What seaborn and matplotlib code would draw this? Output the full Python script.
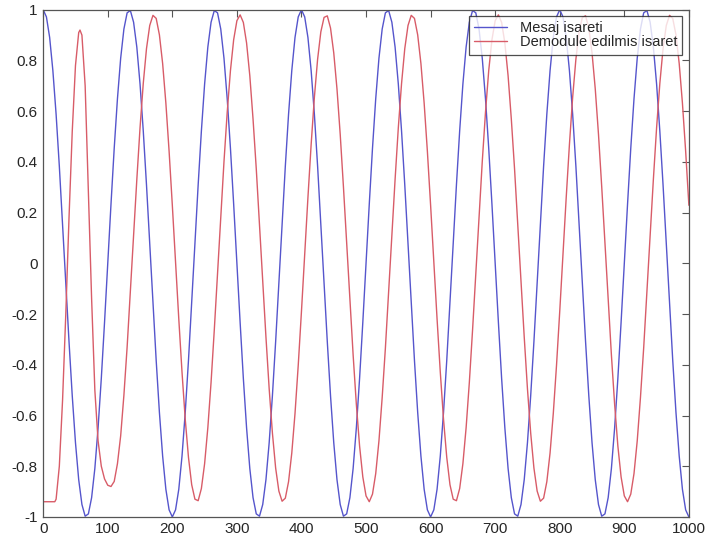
# Message signal vs demodulated signal (MATLAB style figure)
import numpy as np
import matplotlib
matplotlib.use('Agg')
import matplotlib.pyplot as plt
import seaborn as sns

# Message signal, read every 5 units (3 periods = 80 samples, then repeats)
msg_x = list(range(0, 1001, 5))
msg_cycle = [1.0, 0.972, 0.891, 0.76, 0.588, 0.383, 0.156, -0.078, -0.309, -0.522,
             -0.707, -0.853, -0.951, -0.997, -0.988, -0.924, -0.809, -0.649, -0.454, -0.233,
             0.0, 0.233, 0.454, 0.649, 0.809, 0.924, 0.988, 0.997, 0.951, 0.853,
             0.707, 0.522, 0.309, 0.078, -0.156, -0.383, -0.588, -0.76, -0.891, -0.972,
             -1.0, -0.972, -0.891, -0.76, -0.588, -0.383, -0.156, 0.078, 0.309, 0.522,
             0.707, 0.853, 0.951, 0.997, 0.988, 0.924, 0.809, 0.649, 0.454, 0.233,
             0.0, -0.233, -0.454, -0.649, -0.809, -0.924, -0.988, -0.997, -0.951, -0.853,
             -0.707, -0.522, -0.309, -0.078, 0.156, 0.383, 0.588, 0.76, 0.891, 0.972]
msg_y = msg_cycle + msg_cycle + msg_cycle[:41]

# Demodulated signal: start-up part read point by point
dem_start_x = [0, 5, 10, 15, 18, 20, 25, 30, 35, 40, 45, 50, 55, 57, 60, 65, 70, 75,
               80, 85, 90, 95, 100, 105, 110, 115, 120, 125, 130, 135, 140, 145, 150,
               155, 160, 165, 170, 175]
dem_start_y = [-0.94, -0.94, -0.94, -0.94, -0.94, -0.93, -0.80, -0.54, -0.20, 0.18,
               0.52, 0.78, 0.91, 0.92, 0.90, 0.70, 0.28, -0.14, -0.50, -0.70,
               -0.80, -0.85, -0.875, -0.88, -0.86, -0.79, -0.68, -0.52, -0.33, -0.11,
               0.11, 0.33, 0.535, 0.71, 0.847, 0.938, 0.978, 0.966]
# steady part, every 5 units (80 samples repeat)
dem_cycle = [-0.189, 0.035, 0.259, 0.469, 0.655, 0.805, 0.913, 0.97, 0.976, 0.928,
             0.83, 0.688, 0.509, 0.302, 0.08, -0.145, -0.361, -0.556, -0.72, -0.842,
             -0.917, -0.94, -0.91, -0.829, -0.70, -0.529, -0.333, -0.115, 0.11, 0.331,
             0.535, 0.709, 0.847, 0.938, 0.978, 0.966, 0.901, 0.788, 0.632, 0.442,
             0.229, 0.005, -0.219, -0.429, -0.615, -0.765, -0.873, -0.93, -0.936, -0.888,
             -0.79, -0.648, -0.469, -0.262, -0.04, 0.185, 0.401, 0.596, 0.76, 0.882,
             0.957, 0.98, 0.95, 0.869, 0.74, 0.569, 0.373, 0.155, -0.07, -0.291,
             -0.495, -0.669, -0.807, -0.898, -0.938, -0.926, -0.861, -0.748, -0.592, -0.402]
dem_x = dem_start_x + list(range(180, 1001, 5))
dem_y = dem_start_y + dem_cycle[36:] + dem_cycle + dem_cycle[:41]

labels = ['Mesaj isareti', 'Demodule edilmis isaret']

sns.set_style('white')
plt.rcParams['font.family'] = ['Liberation Sans', 'DejaVu Sans']

fig = plt.figure(figsize=(7.08, 5.43), dpi=100)
ax = fig.add_axes([0.061, 0.048, 0.912, 0.934])

sns.lineplot(x=msg_x, y=msg_y, ax=ax, color='#5555cc', linewidth=1.0, label=labels[0])
sns.lineplot(x=dem_x, y=dem_y, ax=ax, color='#d85c68', linewidth=1.0, label=labels[1])

ax.set_xlim(0, 1000)
ax.set_ylim(-1, 1)
ax.set_xticks(np.arange(0, 1001, 100))
ax.set_yticks(np.round(np.arange(-1, 1.01, 0.2), 1))
ax.set_yticklabels(['-1', '-0.8', '-0.6', '-0.4', '-0.2', '0', '0.2', '0.4', '0.6', '0.8', '1'])
ax.tick_params(direction='in', length=5, width=0.8, color='#555555',
               top=True, right=True, labelsize=11, pad=4)
for s in ax.spines.values():
    s.set_color('#555555')
    s.set_linewidth(0.9)

leg = ax.legend(loc='upper right', fontsize=10.5, frameon=True, fancybox=False,
                borderaxespad=0.45, handlelength=2.3, handletextpad=0.85,
                borderpad=0.35, labelspacing=0.0)
leg.get_frame().set_edgecolor('#222222')
leg.get_frame().set_linewidth(0.9)

fig.savefig('out.png', dpi=100)
